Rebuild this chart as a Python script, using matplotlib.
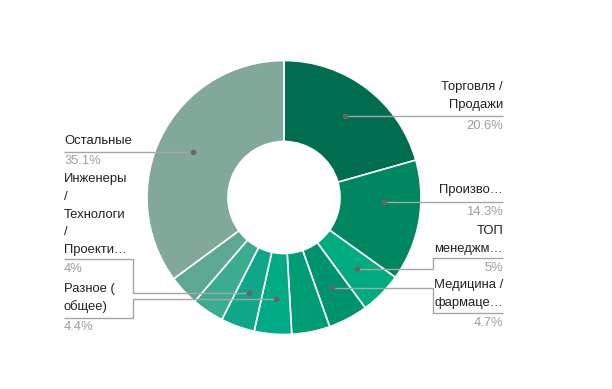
import matplotlib
matplotlib.use("Agg")
import matplotlib.pyplot as plt
import numpy as np

plt.rcParams['font.family'] = ['Liberation Sans', 'DejaVu Sans']

# ---- data ----
categories = ["Торговля / Продажи", "Производство", "ТОП менеджмент",
              "Медицина / фармацевтика", "Другое 1", "Разное ( общее)",
              "Инженеры / Технологи / Проектировщики", "Другое 2", "Другое 3",
              "Остальные"]
values = [20.6, 14.3, 5.0, 4.7, 4.5, 4.4, 4.0, 3.8, 3.6, 35.1]
pct_labels = ["20.6%", "14.3%", "5%", "4.7%", None, "4.4%", "4%", None, None, "35.1%"]
shown_text = [["Торговля /", "Продажи"], ["Произво…"], ["ТОП", "менеджм…"],
              ["Медицина /", "фармаце…"], None, ["Разное (", "общее)"],
              ["Инженеры", "/", "Технологи", "/", "Проекти…"], None, None,
              ["Остальные"]]
colors = ["#006D4F", "#00875F", "#00AC7F", "#00936F", "#009C75", "#00AA85",
          "#0FA68A", "#3AAC8F", "#5DA893", "#82A89A"]

# ---- layout (pixels) ----
W, H = 612, 389
cx, cy = 284, 197.5
R_out, R_in = 137, 56
R_dot = 102

# label layout: side, first text line y, line y, pct y, bend x
layout = {
    0: ("R", 87, 116, 126, None),
    1: ("R", 190, 202, 212, None),
    2: ("R", 231, 258, 268, 433),
    3: ("R", 285, 313, 323, 433),
    5: ("L", 289, 318, 327, 133),
    6: ("L", 179, 259, 269, 133),
    9: ("L", 141, 152, 161, None),
}
xR, xL = 503, 64
line_step = 17.8

fig = plt.figure(figsize=(W / 100, H / 100), dpi=100)
ax = fig.add_axes([0, 0, 1, 1])
ax.set_xlim(0, W)
ax.set_ylim(0, H)
ax.set_aspect('equal')
ax.axis('off')

def Y(y):
    return H - y

wedges, _ = ax.pie(values, colors=colors, startangle=90, counterclock=False,
                   center=(cx, Y(cy)), radius=R_out,
                   wedgeprops=dict(width=R_out - R_in, edgecolor='white', linewidth=1.2))
ax.set_xlim(0, W)
ax.set_ylim(0, H)

line_col = "#a6a6a6"
dot_col = "#666666"
for i, w in enumerate(wedges):
    if i not in layout:
        continue
    side, ty, ly, py, bx = layout[i]
    mid = np.deg2rad((w.theta1 + w.theta2) / 2)
    dx = cx + R_dot * np.cos(mid)
    dy = cy - R_dot * np.sin(mid)
    edge = xR if side == "R" else xL
    if bx is None:
        xs = [edge, dx]
        ys = [ly, ly]
        dy_plot = ly
    else:
        xs = [edge, bx, bx, dx]
        ys = [ly, ly, dy, dy]
        dy_plot = dy
    ax.plot(xs, [Y(v) for v in ys], color=line_col, lw=1, solid_capstyle='butt', zorder=3)
    ax.plot([dx], [Y(dy_plot)], 'o', ms=3, color=dot_col, zorder=4)
    ha = 'right' if side == "R" else 'left'
    for k, t in enumerate(shown_text[i]):
        ax.text(edge, Y(ty + k * line_step), t, ha=ha, va='center',
                fontsize=9.4, color="#222222")
    ax.text(edge, Y(py), pct_labels[i], ha=ha, va='center',
            fontsize=9.4, color="#9e9e9e")

fig.savefig("out.png", dpi=100)
